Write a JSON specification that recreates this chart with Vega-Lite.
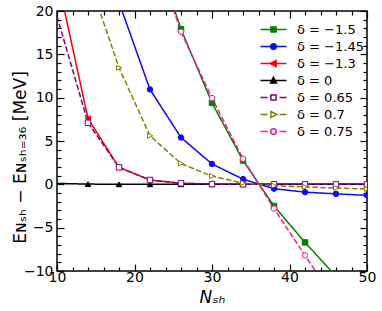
{
  "$schema": "https://vega.github.io/schema/vega-lite/v6.json",
  "width": 310,
  "height": 260,
  "autosize": {"type": "none"},
  "padding": {"left": 57, "top": 11, "right": 15, "bottom": 40},
  "background": "white",
  "config": {
    "view": {"stroke": "black", "strokeWidth": 1.5},
    "font": "DejaVu Sans",
    "axis": {"labelFont": "DejaVu Sans", "titleFont": "DejaVu Sans", "labelColor": "black", "titleColor": "black", "domainColor": "black", "tickColor": "black", "grid": false}
  },
  "datasets": {
    "curves": [
      {"N": 22, "E": 28.5, "label": "δ = −1.5"},
      {"N": 26, "E": 17.9, "label": "δ = −1.5"},
      {"N": 30, "E": 9.4, "label": "δ = −1.5"},
      {"N": 34, "E": 2.75, "label": "δ = −1.5"},
      {"N": 38, "E": -2.5, "label": "δ = −1.5"},
      {"N": 42, "E": -6.7, "label": "δ = −1.5"},
      {"N": 46, "E": -10.6, "label": "δ = −1.5"},
      {"N": 18, "E": 21, "label": "δ = −1.45"},
      {"N": 22, "E": 10.95, "label": "δ = −1.45"},
      {"N": 26, "E": 5.4, "label": "δ = −1.45"},
      {"N": 30, "E": 2.35, "label": "δ = −1.45"},
      {"N": 34, "E": 0.6, "label": "δ = −1.45"},
      {"N": 38, "E": -0.5, "label": "δ = −1.45"},
      {"N": 42, "E": -0.9, "label": "δ = −1.45"},
      {"N": 46, "E": -1.1, "label": "δ = −1.45"},
      {"N": 50, "E": -1.27, "label": "δ = −1.45"},
      {"N": 10, "E": 24, "label": "δ = −1.3"},
      {"N": 14, "E": 7.6, "label": "δ = −1.3"},
      {"N": 18, "E": 1.95, "label": "δ = −1.3"},
      {"N": 22, "E": 0.5, "label": "δ = −1.3"},
      {"N": 26, "E": 0.12, "label": "δ = −1.3"},
      {"N": 30, "E": 0.03, "label": "δ = −1.3"},
      {"N": 34, "E": 0, "label": "δ = −1.3"},
      {"N": 38, "E": 0, "label": "δ = −1.3"},
      {"N": 42, "E": 0, "label": "δ = −1.3"},
      {"N": 46, "E": 0, "label": "δ = −1.3"},
      {"N": 50, "E": 0, "label": "δ = −1.3"},
      {"N": 10, "E": 0.1, "label": "δ = 0"},
      {"N": 14, "E": 0.03, "label": "δ = 0"},
      {"N": 18, "E": 0, "label": "δ = 0"},
      {"N": 22, "E": 0, "label": "δ = 0"},
      {"N": 26, "E": 0, "label": "δ = 0"},
      {"N": 30, "E": 0, "label": "δ = 0"},
      {"N": 34, "E": 0, "label": "δ = 0"},
      {"N": 38, "E": 0, "label": "δ = 0"},
      {"N": 42, "E": 0, "label": "δ = 0"},
      {"N": 46, "E": 0, "label": "δ = 0"},
      {"N": 50, "E": 0, "label": "δ = 0"},
      {"N": 10, "E": 19.4, "label": "δ = 0.65"},
      {"N": 14, "E": 7.1, "label": "δ = 0.65"},
      {"N": 18, "E": 1.95, "label": "δ = 0.65"},
      {"N": 22, "E": 0.5, "label": "δ = 0.65"},
      {"N": 26, "E": 0.12, "label": "δ = 0.65"},
      {"N": 30, "E": 0.03, "label": "δ = 0.65"},
      {"N": 34, "E": 0, "label": "δ = 0.65"},
      {"N": 38, "E": 0, "label": "δ = 0.65"},
      {"N": 42, "E": 0, "label": "δ = 0.65"},
      {"N": 46, "E": 0, "label": "δ = 0.65"},
      {"N": 50, "E": 0, "label": "δ = 0.65"},
      {"N": 14, "E": 24, "label": "δ = 0.7"},
      {"N": 18, "E": 13.45, "label": "δ = 0.7"},
      {"N": 22, "E": 5.6, "label": "δ = 0.7"},
      {"N": 26, "E": 2.4, "label": "δ = 0.7"},
      {"N": 30, "E": 0.95, "label": "δ = 0.7"},
      {"N": 34, "E": 0.15, "label": "δ = 0.7"},
      {"N": 38, "E": -0.15, "label": "δ = 0.7"},
      {"N": 42, "E": -0.3, "label": "δ = 0.7"},
      {"N": 46, "E": -0.42, "label": "δ = 0.7"},
      {"N": 50, "E": -0.53, "label": "δ = 0.7"},
      {"N": 22, "E": 28, "label": "δ = 0.75"},
      {"N": 26, "E": 17.6, "label": "δ = 0.75"},
      {"N": 30, "E": 9.95, "label": "δ = 0.75"},
      {"N": 34, "E": 2.95, "label": "δ = 0.75"},
      {"N": 38, "E": -2.8, "label": "δ = 0.75"},
      {"N": 42, "E": -8.2, "label": "δ = 0.75"},
      {"N": 46, "E": -13.5, "label": "δ = 0.75"}
    ]
  },
  "data": {"name": "curves"},
  "resolve": {
    "axis": {"x": "independent", "y": "independent"},
    "scale": {"shape": "independent", "fill": "independent", "stroke": "independent"}
  },
  "layer": [
    {
      "mark": {"type": "line", "strokeWidth": 1.5, "clip": true},
      "encoding": {
        "x": {
          "field": "N", "type": "quantitative",
          "scale": {"domain": [10, 50], "nice": false, "zero": false},
          "axis": {
            "orient": "bottom",
            "values": [10,12,14,16,18,20,22,24,26,28,30,32,34,36,38,40,42,44,46,48,50],
            "labelExpr": "datum.value % 10 === 0 ? datum.label : ''",
            "tickSize": {"condition": {"test": "datum.value % 10 === 0", "value": -7}, "value": -4},
            "tickWidth": 1.2,
            "domain": false,
            "labelFontSize": 14,
            "labelPadding": 6,
            "labelFlush": false,
            "title": "Nₛₕ",
            "titleFontSize": 17,
            "titleFontWeight": "normal",
            "titleFontStyle": "italic",
            "titleY": 31,
            "titleBaseline": "alphabetic"
          }
        },
        "y": {
          "field": "E", "type": "quantitative",
          "scale": {"domain": [-10, 20], "nice": false, "zero": false},
          "axis": {
            "orient": "left",
            "values": [-10,-9,-8,-7,-6,-5,-4,-3,-2,-1,0,1,2,3,4,5,6,7,8,9,10,11,12,13,14,15,16,17,18,19,20],
            "labelExpr": "datum.value % 5 === 0 ? datum.label : ''",
            "tickSize": {"condition": {"test": "datum.value % 5 === 0", "value": -7}, "value": -4},
            "tickWidth": 1.2,
            "domain": false,
            "labelFontSize": 14,
            "labelPadding": 11,
            "labelFlush": false,
            "title": "Eɴₛₕ − Eɴₛₕ₌₃₆ [MeV]",
            "titleFontSize": 17,
            "titleFontWeight": "normal",
            "titleX": -37,
            "titleY": 146,
            "titleAnchor": "middle",
            "titleBaseline": "middle"
          }
        },
        "color": {
          "field": "label", "type": "nominal",
          "scale": {
            "domain": ["δ = −1.5", "δ = −1.45", "δ = −1.3", "δ = 0", "δ = 0.65", "δ = 0.7", "δ = 0.75"],
            "range": ["#008000", "#0a0aff", "#ff0000", "#000000", "#800080", "#808000", "#ff1493"]
          },
          "legend": null
        },
        "strokeDash": {
          "field": "label", "type": "nominal",
          "scale": {
            "domain": ["δ = −1.5", "δ = −1.45", "δ = −1.3", "δ = 0", "δ = 0.65", "δ = 0.7", "δ = 0.75"],
            "range": [[1, 0], [1, 0], [1, 0], [1, 0], [5.5, 2.4], [5.5, 2.4], [5.5, 2.4]]
          },
          "legend": null
        }
      }
    },
    {
      "transform": [{"filter": "datum.N > 10"}],
      "mark": {"type": "point", "size": 30, "strokeWidth": 1, "opacity": 1, "clip": true},
      "encoding": {
        "x": {
          "field": "N", "type": "quantitative",
          "axis": {
            "orient": "top",
            "values": [10,12,14,16,18,20,22,24,26,28,30,32,34,36,38,40,42,44,46,48,50],
            "labels": false,
            "tickSize": {"condition": {"test": "datum.value % 10 === 0", "value": -7}, "value": -4},
            "tickWidth": 1.2,
            "domain": false,
            "title": null
          }
        },
        "y": {
          "field": "E", "type": "quantitative",
          "axis": {
            "orient": "right",
            "values": [-10,-9,-8,-7,-6,-5,-4,-3,-2,-1,0,1,2,3,4,5,6,7,8,9,10,11,12,13,14,15,16,17,18,19,20],
            "labels": false,
            "tickSize": {"condition": {"test": "datum.value % 5 === 0", "value": -7}, "value": -4},
            "tickWidth": 1.2,
            "domain": false,
            "title": null
          }
        },
        "shape": {
          "field": "label", "type": "nominal",
          "scale": {
            "domain": ["δ = −1.5", "δ = −1.45", "δ = −1.3", "δ = 0", "δ = 0.65", "δ = 0.7", "δ = 0.75"],
            "range": ["square", "circle", "M0.9,-0.9L0.9,0.9L-1,0Z", "triangle-up", "square", "M-0.9,-0.9L-0.9,0.9L1,0Z", "circle"]
          },
          "legend": null
        },
        "stroke": {
          "field": "label", "type": "nominal",
          "scale": {
            "domain": ["δ = −1.5", "δ = −1.45", "δ = −1.3", "δ = 0", "δ = 0.65", "δ = 0.7", "δ = 0.75"],
            "range": ["#008000", "#0a0aff", "#ff0000", "#000000", "#800080", "#808000", "#ff1493"]
          },
          "legend": null
        },
        "fill": {
          "field": "label", "type": "nominal",
          "scale": {
            "domain": ["δ = −1.5", "δ = −1.45", "δ = −1.3", "δ = 0", "δ = 0.65", "δ = 0.7", "δ = 0.75"],
            "range": ["#008000", "#0a0aff", "#ff0000", "#000000", "#ffffff", "#ffffff", "#ffffff"]
          },
          "legend": null
        }
      }
    },
    {
      "transform": [{"filter": "false"}],
      "mark": {"type": "point", "strokeWidth": 1.5, "opacity": 1},
      "encoding": {
        "shape": {
          "field": "label", "type": "nominal",
          "scale": {
            "domain": ["δ = −1.5", "δ = −1.45", "δ = −1.3", "δ = 0", "δ = 0.65", "δ = 0.7", "δ = 0.75"],
            "range": [
              "M-2.6,0H2.6M-0.52,-0.52H0.52V0.52H-0.52Z",
              "M-2.6,0H2.6M0.55,0A0.55,0.55,0,1,1,-0.55,0A0.55,0.55,0,1,1,0.55,0Z",
              "M-2.6,0H2.6M-0.65,0L0.52,-0.6L0.52,0.6Z",
              "M-2.6,0H2.6M0,-0.65L0.6,0.52L-0.6,0.52Z",
              "M-2.6,0H-1.2M1.2,0H2.6M-0.52,-0.52H0.52V0.52H-0.52Z",
              "M-2.6,0H-1.2M1.2,0H2.6M0.65,0L-0.52,-0.6L-0.52,0.6Z",
              "M-2.6,0H-1.2M1.2,0H2.6M0.55,0A0.55,0.55,0,1,1,-0.55,0A0.55,0.55,0,1,1,0.55,0Z"
            ]
          },
          "legend": {
            "title": null,
            "orient": "none",
            "legendX": 210,
            "legendY": 12,
            "padding": 0,
            "symbolSize": 100,
            "symbolStrokeWidth": 1.5,
            "labelFontSize": 13,
            "labelFont": "DejaVu Sans",
            "labelColor": "black",
            "labelOffset": 17,
            "rowPadding": 3
          }
        },
        "stroke": {
          "field": "label", "type": "nominal",
          "scale": {
            "domain": ["δ = −1.5", "δ = −1.45", "δ = −1.3", "δ = 0", "δ = 0.65", "δ = 0.7", "δ = 0.75"],
            "range": ["#008000", "#0a0aff", "#ff0000", "#000000", "#800080", "#808000", "#ff1493"]
          }
        },
        "fill": {
          "field": "label", "type": "nominal",
          "scale": {
            "domain": ["δ = −1.5", "δ = −1.45", "δ = −1.3", "δ = 0", "δ = 0.65", "δ = 0.7", "δ = 0.75"],
            "range": ["#008000", "#0a0aff", "#ff0000", "#000000", "#ffffff", "#ffffff", "#ffffff"]
          }
        }
      }
    }
  ]
}
